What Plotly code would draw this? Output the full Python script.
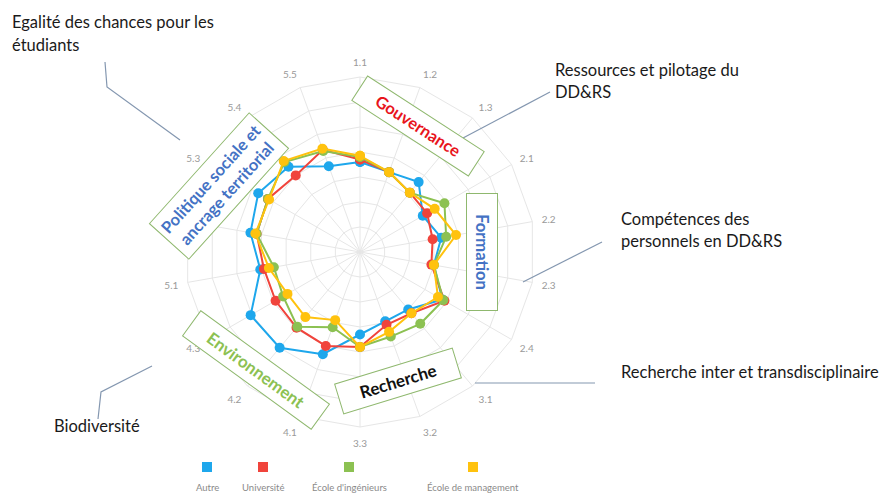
import plotly.graph_objects as go

# Indicator axes, clockwise from the top
axes = ["1.1", "1.2", "1.3", "2.1", "2.2", "2.3", "2.4",
        "3.1", "3.2", "3.3", "4.1", "4.2", "4.3",
        "5.1", "5.2", "5.3", "5.4", "5.5"]

# Scores per type of institution
autre = [36, 34, 36.5, 29, 33, 30, 38, 30, 29.5, 33, 43.5, 50, 50.5, 40.5, 44.5, 47, 44.5, 36.5]
universite = [37, 34, 31, 31, 29.5, 29, 39, 32, 31, 38, 40, 39.5, 39, 39, 42, 42.5, 40, 43.5]
ecole_ingenieurs = [38, 34, 31, 39, 35, 30, 38.5, 37.5, 36, 38, 32, 39, 35.5, 35, 42, 42.5, 47, 43]
ecole_management = [38.5, 34, 31, 34.5, 39, 30, 36, 32, 34, 38, 29, 34, 33.5, 37, 42.5, 42, 47.5, 44]

series_names = ["Autre", "Université", "École d'ingénieurs", "École de management"]
series_values = [autre, universite, ecole_ingenieurs, ecole_management]
series_colors = ["#1ea7ec", "#f0443c", "#8cc152", "#ffc20e"]

W, H = 884, 494


def px(x):
    return x / W


def py(y):
    return 1 - y / H


fig = go.Figure()
for name, vals, col in zip(series_names, series_values, series_colors):
    fig.add_trace(go.Scatterpolar(
        r=vals + vals[:1], theta=axes + axes[:1], name=name,
        mode="lines+markers",
        line=dict(color=col, width=2),
        marker=dict(color=col, size=10),
        showlegend=False,
    ))

cx, cy, R = 360, 252, 175
fig.update_layout(
    width=W, height=H,
    margin=dict(l=0, r=0, t=0, b=0),
    paper_bgcolor="white", plot_bgcolor="white",
    font=dict(family="Lato, sans-serif"),
    polar=dict(
        domain=dict(x=[px(cx - R), px(cx + R)], y=[py(cy + R), py(cy - R)]),
        bgcolor="white",
        gridshape="linear",
        angularaxis=dict(
            direction="clockwise", rotation=90,
            gridcolor="#e6e6e6", linecolor="#e6e6e6", linewidth=1,
            tickfont=dict(size=10, color="#9a9a9a"),
            ticks="outside", ticklen=7, tickcolor="rgba(0,0,0,0)",
        ),
        radialaxis=dict(
            range=[0, 70], dtick=10, showticklabels=False, ticks="",
            gridcolor="#e6e6e6", showline=False,
        ),
    ),
)

# Category boxes
boxes = [
    ("Gouvernance", 418, 126, 33, "#e8141b", 134, 24, 16.5),
    ("Formation", 482, 252, 90, "#4472c4", 112, 26, 16.5),
    ("Recherche", 398, 381, -17, "#111111", 118, 26, 17),
    ("Environnement", 256, 370, 36, "#8cc152", 154, 26, 17),
    ("Politique sociale et<br>ancrage territorial", 219, 186, -48, "#4472c4", 144, 48, 16.5),
]
for text, x, y, ang, col, w, h, fs in boxes:
    fig.add_annotation(
        x=px(x), y=py(y), xref="paper", yref="paper",
        text="<b>" + text + "</b>", showarrow=False, textangle=ang,
        font=dict(size=fs, color=col, family="Lato, sans-serif"),
        bordercolor="#8fb86e", borderwidth=1, borderpad=2,
        bgcolor="white", width=w, height=h,
        xanchor="center", yanchor="middle",
    )

# Callout notes
notes = [
    ("Egalité des chances pour les", 10, 22),
    ("étudiants", 10, 45),
    ("Ressources et pilotage du", 553, 70),
    ("DD&RS", 553, 92),
    ("Compétences des", 619, 219),
    ("personnels en DD&RS", 619, 241),
    ("Recherche inter et transdisciplinaire", 619, 372),
    ("Biodiversité", 52, 426),
]
for text, x, y in notes:
    fig.add_annotation(
        x=px(x), y=py(y), xref="paper", yref="paper", text=text,
        showarrow=False, xanchor="left", yanchor="middle",
        font=dict(size=16.5, color="#1a1a1a", family="Lato, sans-serif"),
    )

leaders = [
    [(105, 62), (107, 87), (180, 140)],
    [(463, 138), (550, 92)],
    [(523, 282), (602, 242)],
    [(475, 383), (595, 383)],
    [(152, 366), (101, 392), (98, 419)],
]
for pts in leaders:
    path = "M " + " L ".join(f"{px(x):.5f},{py(y):.5f}" for x, y in pts)
    fig.add_shape(type="path", path=path, xref="paper", yref="paper",
                  line=dict(color="#8497b0", width=1.2))

# Legend: swatch above label
legend_x = [207, 263, 349, 473]
for name, col, x in zip(series_names, series_colors, legend_x):
    fig.add_shape(type="rect", xref="paper", yref="paper",
                  x0=px(x - 5), x1=px(x + 5), y0=py(472), y1=py(462),
                  fillcolor=col, line=dict(width=0))
    fig.add_annotation(x=px(x), y=py(487), xref="paper", yref="paper",
                       text=name, showarrow=False, xanchor="center", yanchor="middle",
                       font=dict(size=9.5, color="#8a8a8a", family="Lato, sans-serif"))

fig.write_html("out.html")
